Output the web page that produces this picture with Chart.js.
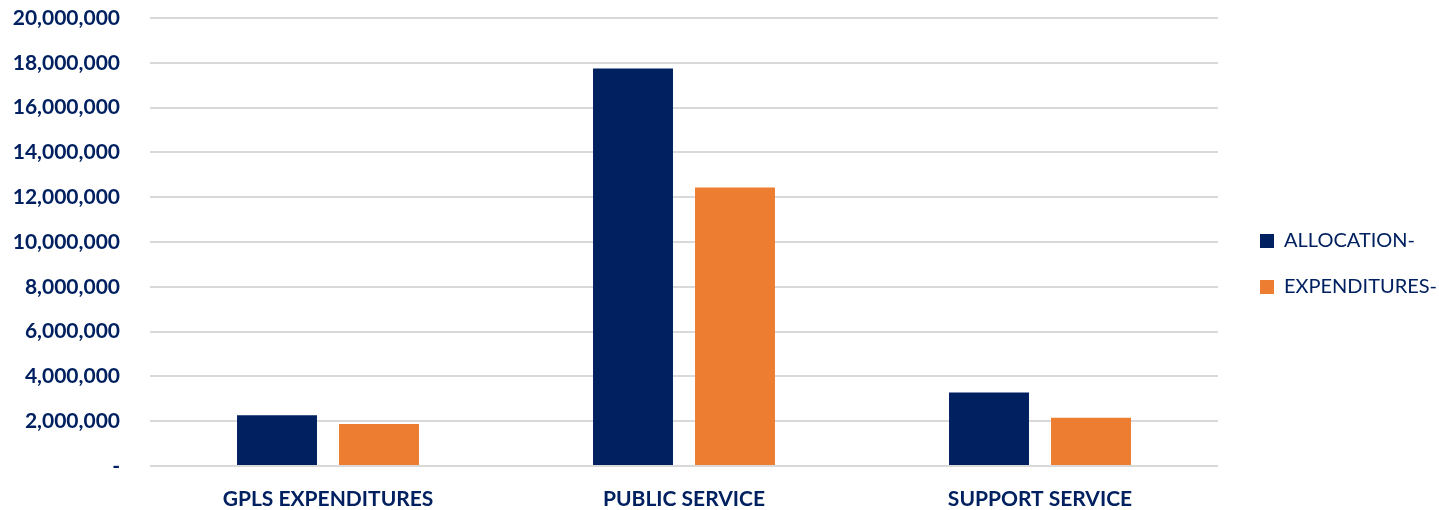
<!DOCTYPE html>
<html>
<head>
<meta charset="utf-8">
<script src="https://cdn.jsdelivr.net/npm/chart.js@4"></script>
<style>
  html, body { margin: 0; padding: 0; background: #ffffff; }
  #wrap { width: 1439px; height: 510px; }
</style>
</head>
<body>
<div id="wrap"><canvas id="chart"></canvas></div>
<script>
// Daten
const categories = ["GPLS EXPENDITURES", "PUBLIC SERVICE", "SUPPORT SERVICE"];
const allocation = [2270000, 17750000, 3280000];
const expenditures = [1880000, 12430000, 2150000];
const yTickLabels = ["-", "2,000,000", "4,000,000", "6,000,000", "8,000,000", "10,000,000",
  "12,000,000", "14,000,000", "16,000,000", "18,000,000", "20,000,000"];

const navy = "#002060";
const orange = "#ED7D31";
const fontName = "Lato";

// Legende auf feste Breite setzen
const legendWidthFix = {
  id: "legendWidthFix",
  beforeLayout(chart) {
    const lg = chart.legend;
    if (lg && !lg._fixed) {
      const fit = lg.fit;
      lg.fit = function () { fit.call(this); this.width = 205; };
      lg._fixed = true;
    }
  }
};

new Chart(document.getElementById("chart"), {
  type: "bar",
  data: {
    labels: categories,
    datasets: [
      { label: "ALLOCATION-", data: allocation, backgroundColor: navy },
      { label: "EXPENDITURES-", data: expenditures, backgroundColor: orange }
    ]
  },
  plugins: [legendWidthFix],
  options: {
    responsive: true,
    maintainAspectRatio: false,
    animation: false,
    layout: { padding: { top: 18, left: 0, right: 0, bottom: 0 } },
    datasets: { bar: { categoryPercentage: 0.573, barPercentage: 0.784 } },
    plugins: {
      tooltip: { enabled: false },
      legend: {
        position: "right",
        labels: {
          boxWidth: 14,
          boxHeight: 14,
          padding: 26,
          color: navy,
          font: { family: fontName, size: 20 }
        }
      }
    },
    scales: {
      x: {
        grid: { display: false },
        border: { display: false },
        ticks: { color: navy, padding: 13, font: { family: fontName, size: 21, weight: "bold" } },
        afterFit(s) { s.height = 44; s.paddingLeft = 0; s.paddingRight = 0; }
      },
      y: {
        min: 0,
        max: 20000000,
        grid: { color: "#d9d9d9", lineWidth: 2, drawTicks: false },
        border: { display: false },
        ticks: {
          stepSize: 2000000,
          padding: 30,
          color: navy,
          font: { family: fontName, size: 21, weight: "bold" },
          callback: (v, i) => yTickLabels[i]
        },
        afterFit(s) { s.width = 150; s.paddingTop = 0; s.paddingBottom = 0; }
      },
      gap: {
        position: "right",
        display: true,
        grid: { display: false },
        border: { display: false },
        ticks: { display: false },
        afterFit(s) { s.width = 16; s.paddingTop = 0; s.paddingBottom = 0; }
      }
    }
  }
});
</script>
</body>
</html>
